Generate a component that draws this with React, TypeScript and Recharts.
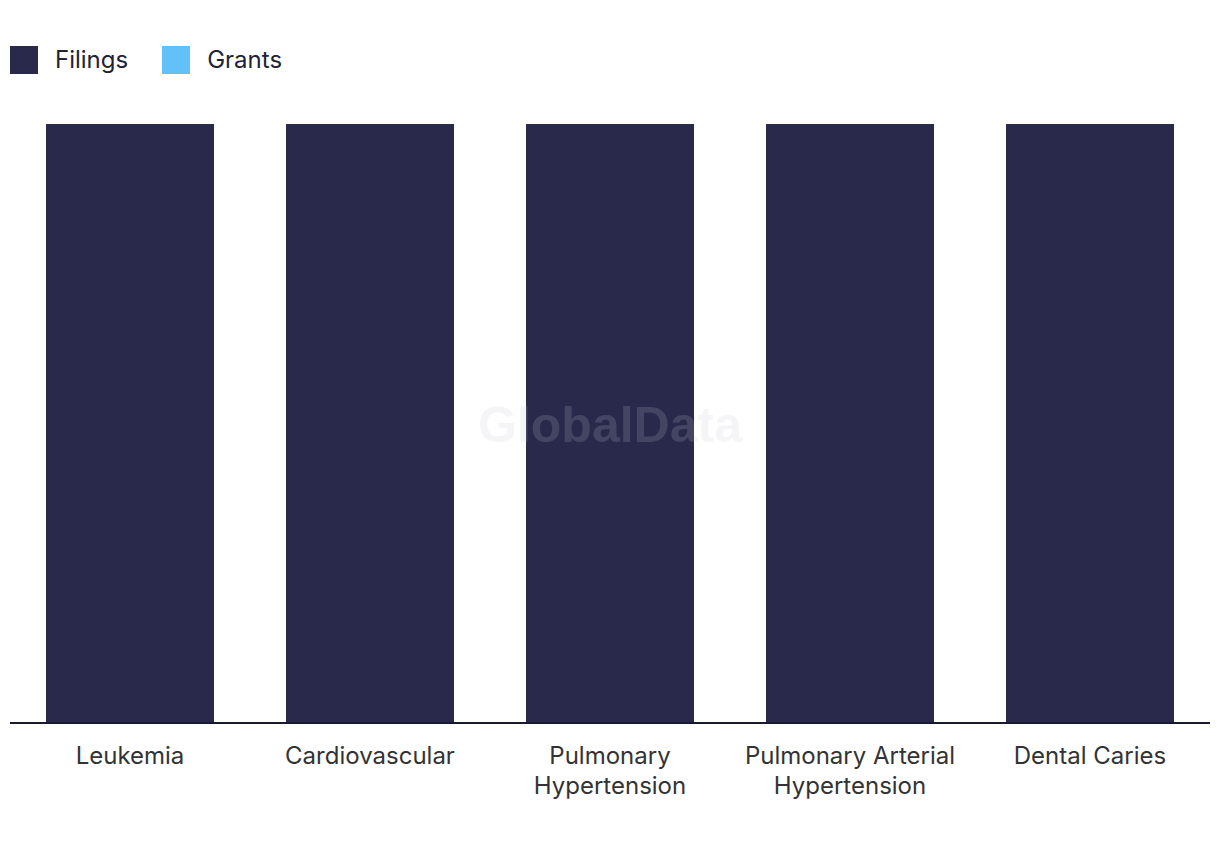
import React from "react";
import { BarChart, Bar, XAxis, YAxis } from "recharts";

const categories = ["Leukemia", "Cardiovascular", "Pulmonary Hypertension", "Pulmonary Arterial Hypertension", "Dental Caries"];
const filings = [1, 1, 1, 1, 1];
const grants = [0, 0, 0, 0, 0];

const seriesInfo = [
  { key: "filings", name: "Filings", color: "#28294b" },
  { key: "grants", name: "Grants", color: "#62c1f8" },
];

const data = categories.map((c, i) => ({ name: c, filings: filings[i], grants: grants[i] }));

const FONT = "Inter, 'Noto Sans', sans-serif";

// greedy word wrap, ~20 chars a line
function wrapLabel(s: string, max = 20) {
  const lines: string[] = [];
  let cur = "";
  s.split(" ").forEach((w) => {
    const next = cur ? cur + " " + w : w;
    if (next.length > max && cur) {
      lines.push(cur);
      cur = w;
    } else cur = next;
  });
  if (cur) lines.push(cur);
  return lines;
}

function CategoryTick(props: any) {
  const { x, y, payload } = props;
  const lines = wrapLabel(String(payload.value));
  return (
    <text x={x} y={y + 41} textAnchor="middle" fontSize={24} fontFamily={FONT} fill="#333333">
      {lines.map((l, i) => (
        <tspan key={i} x={x} dy={i === 0 ? 0 : 30}>
          {l}
        </tspan>
      ))}
    </text>
  );
}

function LegendBox() {
  return (
    <div
      style={{
        position: "absolute",
        left: 10,
        top: 46,
        display: "flex",
        alignItems: "center",
        fontFamily: FONT,
        fontSize: 24,
        lineHeight: "28px",
        color: "#222233",
      }}
    >
      {seriesInfo.map((s) => (
        <div key={s.key} style={{ display: "flex", alignItems: "center", marginRight: 34 }}>
          <span style={{ width: 28, height: 28, background: s.color, display: "inline-block", marginRight: 17 }} />
          <span>{s.name}</span>
        </div>
      ))}
    </div>
  );
}

export default function App() {
  return (
    <div style={{ position: "absolute", left: 0, top: 0, width: 1220, height: 850, background: "#fff" }}>
      <LegendBox />
      <BarChart
        width={1220}
        height={850}
        data={data}
        margin={{ top: 124, right: 10, left: 10, bottom: 0 }}
        barCategoryGap="15%"
      >
        <XAxis
          dataKey="name"
          height={127}
          tickLine={false}
          tickSize={0}
          tickMargin={0}
          interval={0}
          axisLine={{ stroke: "#1a1a2e", strokeWidth: 2 }}
          tick={<CategoryTick />}
        />
        <YAxis hide domain={[0, "dataMax"]} />
        {seriesInfo.map((s) => (
          <Bar key={s.key} dataKey={s.key} name={s.name} stackId="a" fill={s.color} isAnimationActive={false} />
        ))}
      </BarChart>
      <svg width={1220} height={850} style={{ position: "absolute", left: 0, top: 0, pointerEvents: "none" }}>
        <text
          x={610}
          y={442}
          textAnchor="middle"
          fontFamily="'Liberation Sans', Arial, sans-serif"
          fontWeight="bold"
          fontSize={50}
          fill="#c6c6d0"
          fillOpacity={0.18}
        >
          GlobalData
        </text>
      </svg>
    </div>
  );
}
